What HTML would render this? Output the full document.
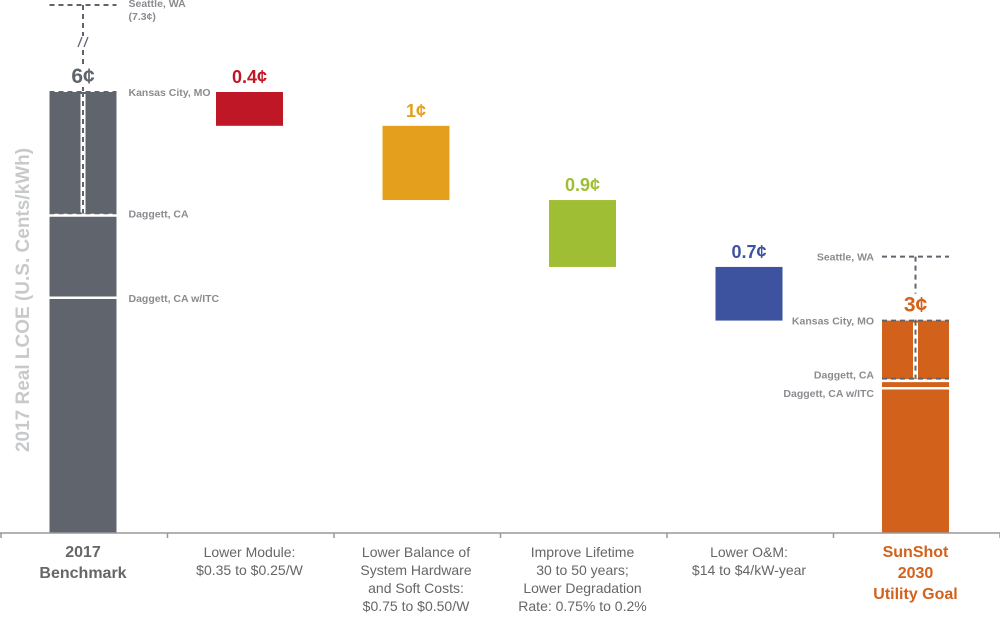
<!DOCTYPE html>
<html><head><meta charset="utf-8"><style>
body{margin:0;background:#fff;font-family:"Liberation Sans",sans-serif}
svg{display:block}
</style></head><body>
<svg id="c" width="1000" height="617" xmlns="http://www.w3.org/2000/svg"></svg>
<script>
const categories=["2017|Benchmark","Lower Module:|$0.35 to $0.25/W","Lower Balance of|System Hardware|and Soft Costs:|$0.75 to $0.50/W","Improve Lifetime|30 to 50 years;|Lower Degradation|Rate: 0.75% to 0.2%","Lower O&M:|$14 to $4/kW-year","SunShot|2030|Utility Goal"];
const values=[6.0,0.46,1.01,0.91,0.73,2.89];
const valueLabels=["6¢","0.4¢","1¢","0.9¢","0.7¢","3¢"];
const colors=["#60646c","#c01727","#e4a01c","#9fbe34","#3e53a0","#d2611c"];
const benchMarkers=[["Seattle, WA","(7.3¢)",7.3],["Kansas City, MO","",6.0],["Daggett, CA","",4.35],["Daggett, CA w/ITC","",3.2]];
const goalMarkers=[["Seattle, WA",3.76],["Kansas City, MO",2.89],["Daggett, CA",2.1],["Daggett, CA w/ITC",1.97]];
const svg=document.getElementById('c');const NS="http://www.w3.org/2000/svg";
const base=533,ppc=73.5,bw=67,cw=166.5;
const y=v=>Math.max(5,base-v*ppc);const cx=i=>83+i*cw;
function el(t,a,p){const e=document.createElementNS(NS,t);for(const k in a)e.setAttribute(k,a[k]);(p||svg).appendChild(e);return e;}
function txt(x,yy,s,a){const e=el('text',Object.assign({x:x,y:yy},a));e.textContent=s;return e;}
let t=txt(0,0,"2017 Real LCOE (U.S. Cents/kWh)",{transform:"translate(29,300) rotate(-90)","text-anchor":"middle","font-size":"19","font-weight":"bold",fill:"#c8c9cb"});


const tops=[];
let run=values[0];
values.forEach((v,i)=>{let top,bot;
 if(i===0||i===values.length-1){top=y(v);bot=base;}else{top=y(run);bot=y(run-v);run-=v;}
 tops.push(top);
 const r=el('rect',{x:cx(i)-bw/2,y:top,width:bw,height:bot-top,fill:colors[i]});
 
 
});
el('line',{x1:0,x2:1000,y1:base,y2:base,stroke:"#999","stroke-width":1.5});
for(let i=0;i<=6;i++)el('line',{x1:1+i*cw,x2:1+i*cw,y1:base,y2:base+5,stroke:"#999","stroke-width":1.5});
categories.forEach((c,i)=>{const lines=c.split('|');const bold=i===0||i===5;
 const g=el('text',{x:cx(i),y:base+24,"text-anchor":"middle","font-size":bold?"16":"14","font-weight":bold?"bold":"normal",fill:i===5?"#d2611c":"#666"});
 
 
 lines.forEach((s,k)=>{const ts=el('tspan',{x:cx(i),dy:k?(bold?21:18):0},g);ts.textContent=s;});
});
function mk(i,vals,side){const x0=cx(i)-bw/2,x1=cx(i)+bw/2,mid=cx(i);
 const dash={stroke:"#60646c","stroke-width":2,"stroke-dasharray":"5,4"};
 const tV=vals[0][vals[0].length-1],kV=vals[1][vals[1].length-1],dV=vals[2][vals[2].length-1],iV=vals[3][vals[3].length-1];
 el('line',Object.assign({x1:x0,x2:x1,y1:y(tV),y2:y(tV)},dash));
 el('line',Object.assign({x1:mid,x2:mid,y1:y(tV),y2:y(kV)},dash));
 el('line',Object.assign({x1:x0,x2:x1,y1:y(kV),y2:y(kV)},dash));
 el('line',{x1:mid,x2:mid,y1:y(kV)+2,y2:y(dV),stroke:"#fff","stroke-width":5});
 el('line',Object.assign({x1:mid,x2:mid,y1:y(kV),y2:y(dV)},dash));
 el('line',{x1:x0,x2:x1,y1:y(dV)+2,y2:y(dV)+2,stroke:"#fff","stroke-width":3});
 el('line',Object.assign({x1:x0,x2:x1,y1:y(dV),y2:y(dV)},dash));
 el('line',{x1:x0,x2:x1,y1:y(iV),y2:y(iV),stroke:"#fff","stroke-width":2.5});
 const offs=side>0?[2,4,4,4]:[4,4,0,9];
 vals.forEach((m,k)=>{const v=m[m.length-1];const lx=side>0?x1+12:x0-8;
  const e=txt(lx,y(v)+offs[k],m[0],{"font-size":"10.5","font-weight":"bold",fill:"#8a8c90","text-anchor":side>0?"start":"end"});
  
  
  if(m.length===3&&m[1]){txt(lx,y(v)+15,m[1],{"font-size":"10.5","font-weight":"bold",fill:"#8a8c90"});}
 });
}
mk(0,benchMarkers,1);
mk(5,goalMarkers,-1);
el('rect',{x:cx(0)-6,y:36,width:12,height:12,fill:"#fff"});
el('line',{x1:cx(0)-5,y1:47,x2:cx(0)-1,y2:37,stroke:"#60646c","stroke-width":1.3});
el('line',{x1:cx(0)+1,y1:47,x2:cx(0)+5,y2:37,stroke:"#60646c","stroke-width":1.3});
values.forEach((v,i)=>{const big=(i===0||i===5);
 if(big)el('rect',{x:cx(i)-15,y:tops[i]-27,width:30,height:22,fill:"#fff"});
 const l=txt(cx(i),tops[i]-9,valueLabels[i],{"text-anchor":"middle","font-size":big?"21":"18","font-weight":"bold",fill:i===0?"#60646c":colors[i]});
 
 
});
</script>
</body></html>
